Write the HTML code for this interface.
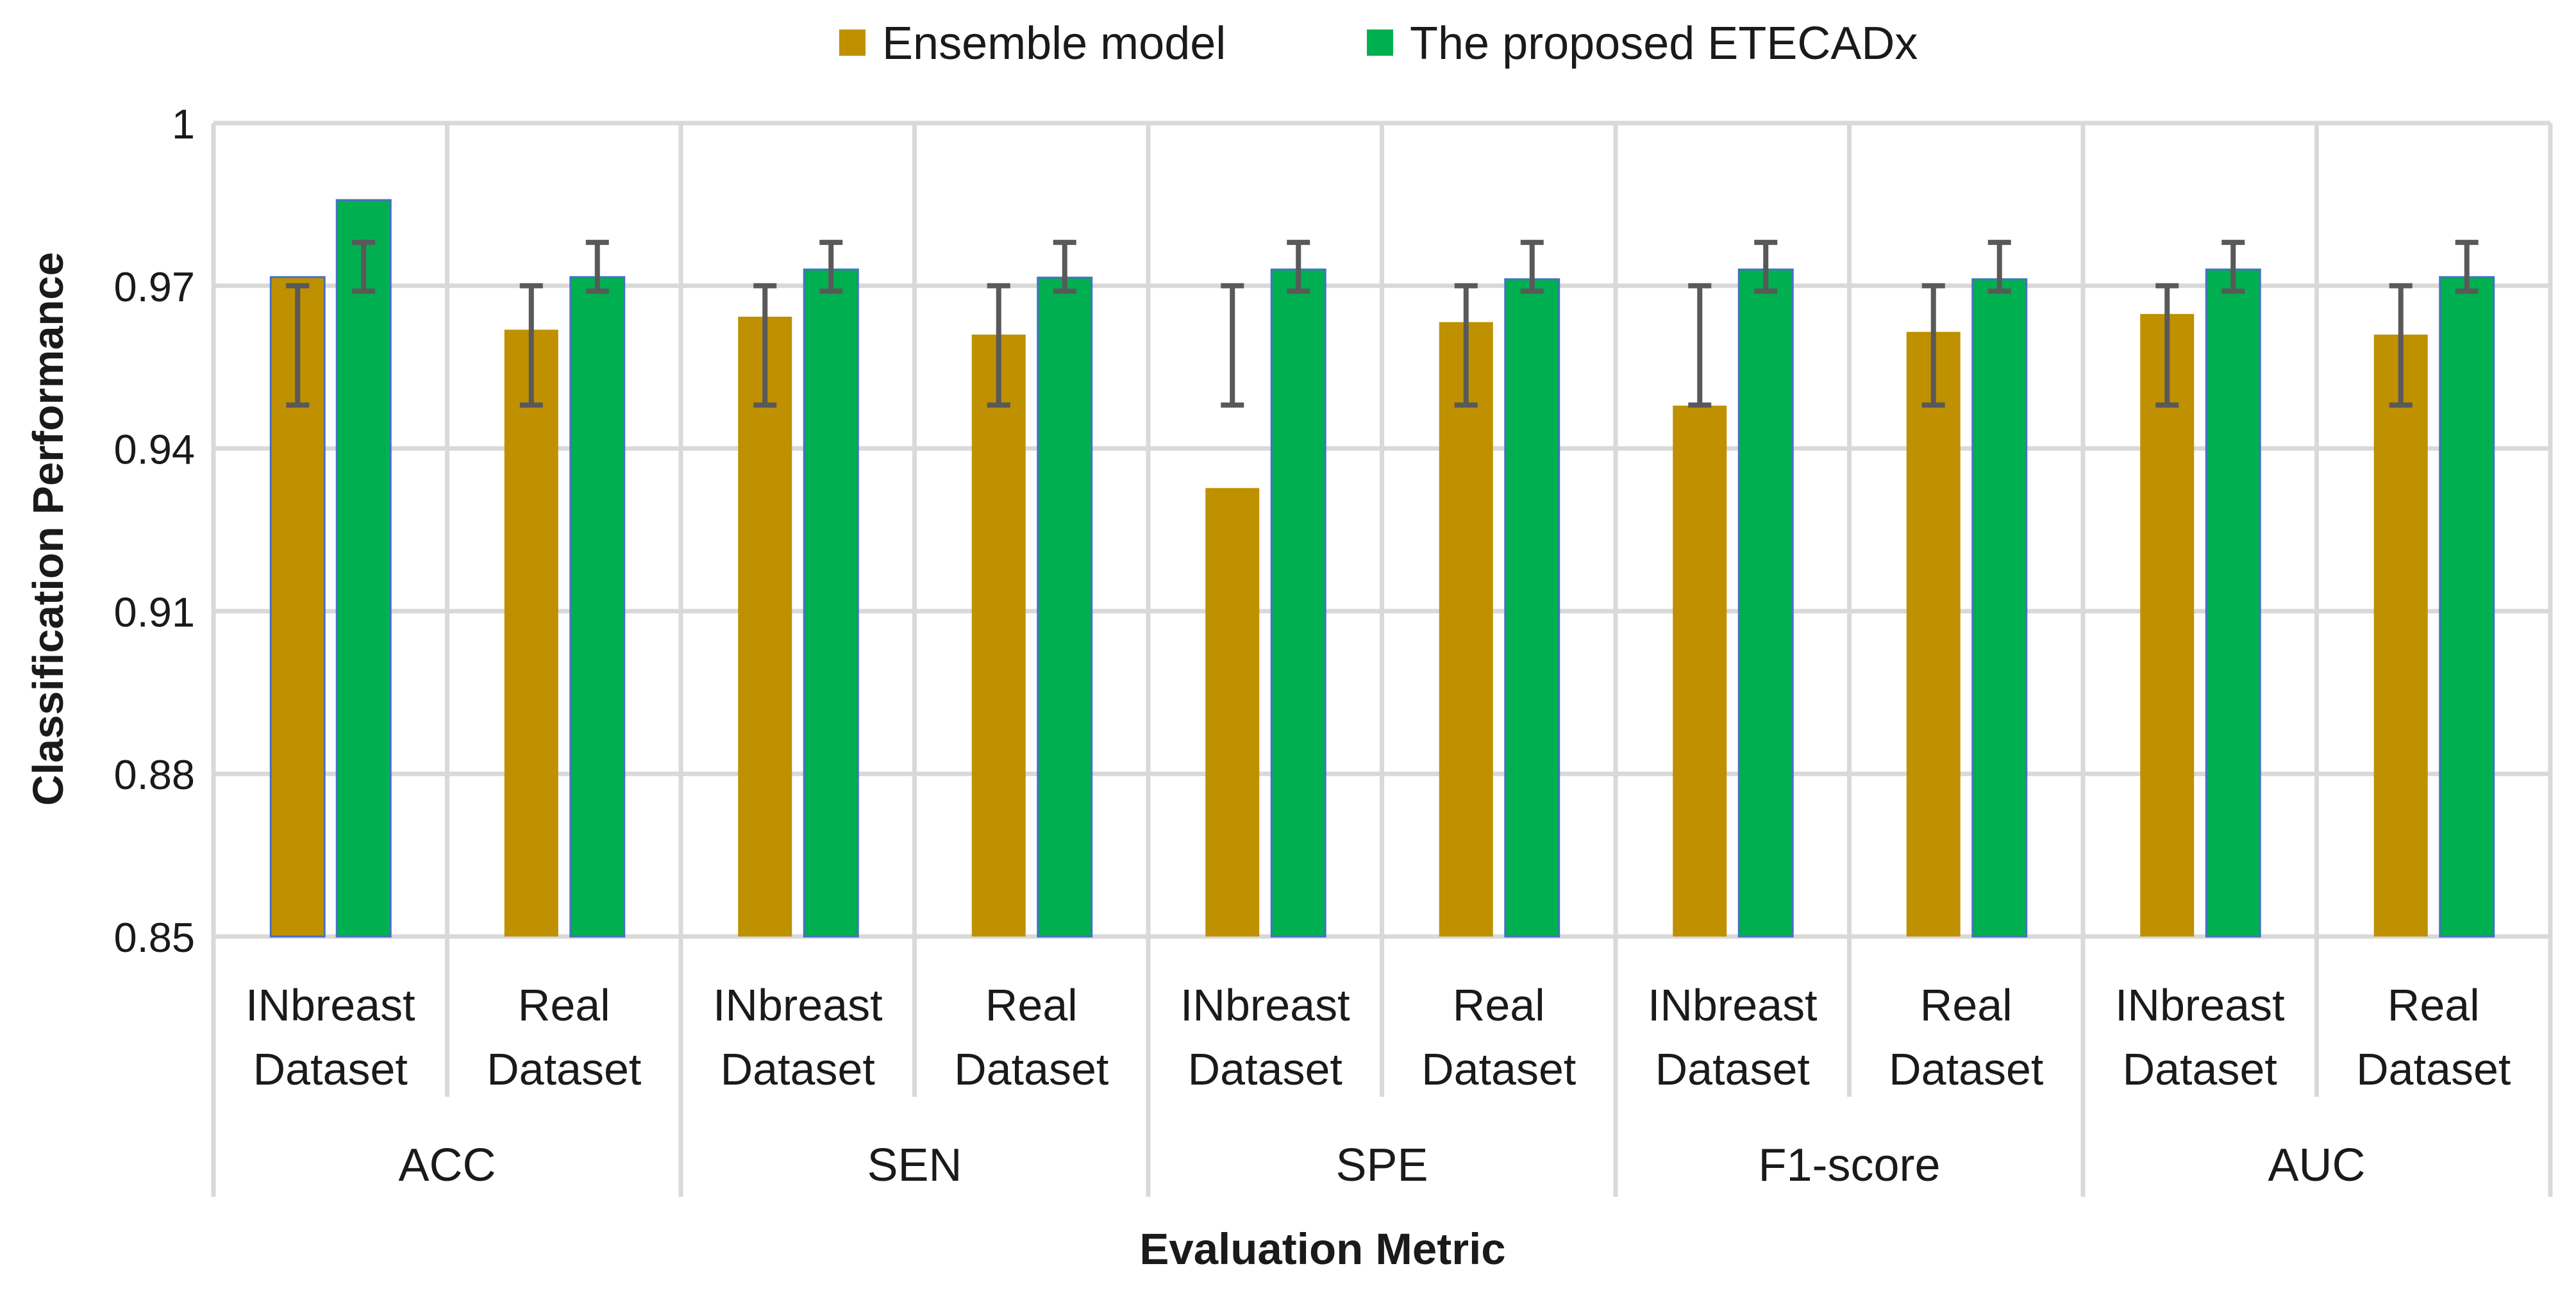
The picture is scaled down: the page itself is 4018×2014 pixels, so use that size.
<!DOCTYPE html>
<html><head><meta charset="utf-8"><style>
html,body{margin:0;padding:0;background:#fff;width:4018px;height:2014px;overflow:hidden}
svg{display:block}
text{font-family:"Liberation Sans",sans-serif;fill:#1a1a1a}
</style></head><body>
<svg id="chart" width="4018" height="2014" viewBox="0 0 4018 2014" xmlns="http://www.w3.org/2000/svg">
<g>
<rect x="1309" y="46" width="41" height="41" fill="#BF9000"/>
<text x="1376" y="92" font-size="72">Ensemble model</text>
<rect x="2132" y="46" width="41" height="41" fill="#00B050"/>
<text x="2199" y="92" font-size="72">The proposed ETECADx</text>
</g>
<g id="grid"></g>
<g id="bars"></g>
<g id="labels"></g>
<text transform="translate(98,825) rotate(-90)" text-anchor="middle" font-size="67" font-weight="bold">Classification Performance</text>
<text x="2063" y="1972" text-anchor="middle" font-size="69" font-weight="bold">Evaluation Metric</text>
</svg>
<script>
const groups = ["ACC","SEN","SPE","F1-score","AUC"];
const datasets = [["INbreast","Dataset"],["Real","Dataset"]];
const ensemble = [0.9716,0.9619,0.9643,0.961,0.9327,0.9633,0.9479,0.9615,0.9648,0.961];
const etecadx = [0.9858,0.9716,0.973,0.9715,0.973,0.9712,0.973,0.9712,0.973,0.9716];
const ensErrLow = [0.948,0.948,0.948,0.948,0.948,0.948,0.948,0.948,0.948,0.948];
const ensErrHigh = [0.97,0.97,0.97,0.97,0.97,0.97,0.97,0.97,0.97,0.97];
const etcErrLow = [0.969,0.969,0.969,0.969,0.969,0.969,0.969,0.969,0.969,0.969];
const etcErrHigh = [0.978,0.978,0.978,0.978,0.978,0.978,0.978,0.978,0.978,0.978];
const yTicks = [0.85,0.88,0.91,0.94,0.97,1];
const yTickLabels = ["0.85","0.88","0.91","0.94","0.97","1"];

const NS="http://www.w3.org/2000/svg";
const L=333,R=3978,T=192,B=1461;
const yMin=0.85,yMax=1;
const n=ensemble.length, cw=(R-L)/n;
function y(v){return B-(v-yMin)/(yMax-yMin)*(B-T);}
function xc(i){return L+cw*(i+0.5);}
function mk(tag,attrs,parent){const e=document.createElementNS(NS,tag);for(const k in attrs)e.setAttribute(k,attrs[k]);parent.appendChild(e);return e;}
const grid=document.getElementById('grid'),bars=document.getElementById('bars'),labels=document.getElementById('labels');
const GC="#d9d9d9";
yTicks.forEach((t,i)=>{
  const l=mk('line',{x1:L,x2:R,y1:y(t),y2:y(t),stroke:GC,'stroke-width':7},grid);
  
  
  const tx=mk('text',{x:304,y:y(t)+24,'text-anchor':'end','font-size':65},labels);
  tx.textContent=yTickLabels[i];
  
  
});
for(let i=0;i<=n;i++){
  const x=L+cw*i;
  const bot=(i%2===0)?1867:1711;
  const l=mk('line',{x1:x,x2:x,y1:T,y2:bot,stroke:GC,'stroke-width':7},grid);
  
  
}
const bw=84;
for(let i=0;i<n;i++){
  const gx=xc(i)-51, ex=xc(i)+52;
  const b1=mk('rect',{x:gx-bw/2,y:y(ensemble[i]),width:bw,height:B-y(ensemble[i]),fill:'#BF9000',stroke:i===0?'#4472C4':'none','stroke-width':3},bars);
  
  
  const b2=mk('rect',{x:ex-bw/2,y:y(etecadx[i]),width:bw,height:B-y(etecadx[i]),fill:'#00B050',stroke:'#4472C4','stroke-width':3},bars);
  
  
  [[gx,ensErrLow[i],ensErrHigh[i]],[ex,etcErrLow[i],etcErrHigh[i]]].forEach(([cx,lo,hi])=>{
    const g=mk('g',{stroke:'#595959','stroke-width':8},bars);
    
    
    mk('line',{x1:cx,x2:cx,y1:y(lo),y2:y(hi)},g);
    mk('line',{x1:cx-18,x2:cx+18,y1:y(lo),y2:y(lo)},g);
    mk('line',{x1:cx-18,x2:cx+18,y1:y(hi),y2:y(hi)},g);
  });
  const d=datasets[i%2];
  const t1=mk('text',{x:xc(i),y:1592,'text-anchor':'middle','font-size':70},labels);
  t1.textContent=d[0];
  
  
  const t2=mk('text',{x:xc(i),y:1692,'text-anchor':'middle','font-size':70},labels);
  t2.textContent=d[1];
  
  
}
groups.forEach((g,j)=>{
  const t=mk('text',{x:L+cw*(2*j+1),y:1842,'text-anchor':'middle','font-size':72},labels);
  t.textContent=g;
  
  
});
</script>
</body></html>
